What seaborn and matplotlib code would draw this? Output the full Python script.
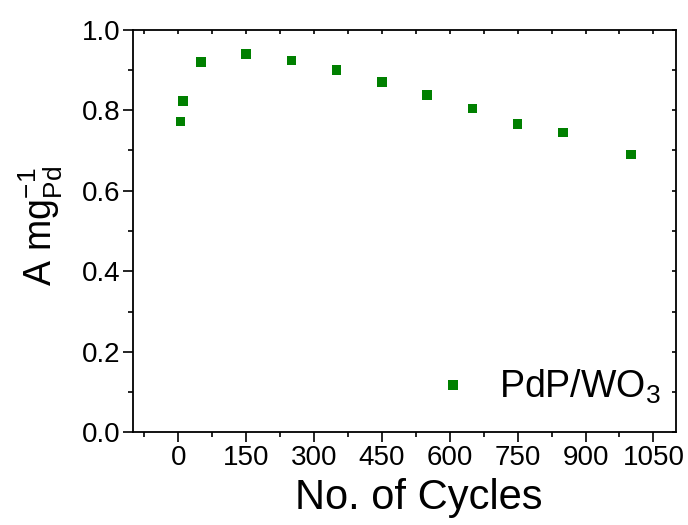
import matplotlib
matplotlib.use("Agg")
import matplotlib.pyplot as plt
from matplotlib.ticker import MultipleLocator
import seaborn as sns
import pandas as pd

# Mass activity of PdP/WO3 over repeated cycling
cycles = [5, 10, 50, 150, 250, 350, 450, 550, 650, 750, 850, 1000]
activity = [0.772, 0.823, 0.919, 0.939, 0.923, 0.899, 0.870, 0.838, 0.804, 0.766, 0.744, 0.690]
series_label = "PdP/WO$_3$"
x_ticks = [0, 150, 300, 450, 600, 750, 900, 1050]
y_ticks = [0.0, 0.2, 0.4, 0.6, 0.8, 1.0]

df = pd.DataFrame({"cycles": cycles, "activity": activity, "sample": series_label})

sns.set_theme(style="ticks")
plt.rcParams["font.family"] = ["Liberation Sans", "DejaVu Sans"]
plt.rcParams["mathtext.fontset"] = "custom"
plt.rcParams["mathtext.rm"] = "Liberation Sans"
plt.rcParams["mathtext.it"] = "Liberation Sans"
plt.rcParams["mathtext.bf"] = "Liberation Sans"
for key in ["text.color", "axes.labelcolor", "xtick.color", "ytick.color"]:
    plt.rcParams[key] = "black"

fig = plt.figure(figsize=(6.88, 5.25), dpi=100)
ax = fig.add_axes([0.1933, 0.1762, 0.7893, 0.7676])

sns.scatterplot(data=df, x="cycles", y="activity", hue="sample",
                palette=["#008000"], marker="s", s=48, linewidth=0,
                ax=ax)

ax.set_xlim(-100, 1100)
ax.set_ylim(0.0, 1.0)
ax.set_xticks(x_ticks)
ax.set_yticks(y_ticks)
ax.set_xticklabels([str(t) for t in x_ticks])
ax.set_yticklabels([f"{t:.1f}" for t in y_ticks])
ax.xaxis.set_minor_locator(MultipleLocator(75))
ax.yaxis.set_minor_locator(MultipleLocator(0.1))

for side in ["left", "bottom", "right", "top"]:
    ax.spines[side].set_linewidth(1.3)
    ax.spines[side].set_color("black")

ax.tick_params(which="major", direction="out", length=7, width=1.2,
               labelsize=20, colors="black", pad=2)
ax.tick_params(which="minor", direction="out", length=3.5, width=1.2, colors="black")
ax.tick_params(which="both", top=True, right=True)
# inward ticks on the mirrored top/right axes
for t in ax.xaxis.get_major_ticks() + ax.xaxis.get_minor_ticks():
    t.tick2line.set_marker(3)
    t.tick2line.set_markersize(3)
for t in ax.yaxis.get_major_ticks() + ax.yaxis.get_minor_ticks():
    t.tick2line.set_marker(0)
    t.tick2line.set_markersize(3)

ax.set_xlabel("No. of Cycles", fontsize=30)
ax.set_ylabel("A mg$^{-1}_{Pd}$", fontsize=27)
ax.xaxis.set_label_coords(0.527, -0.112)
ax.yaxis.set_label_coords(-0.125, 0.512)

leg = ax.legend(loc="lower right", frameon=False, fontsize=27,
                handletextpad=0.25, borderaxespad=0.3,
                bbox_to_anchor=(1.021, 0.0))
for h in leg.legend_handles:
    if hasattr(h, "set_markersize"):
        h.set_markersize(6.9)

fig.savefig("out.png", dpi=100)
